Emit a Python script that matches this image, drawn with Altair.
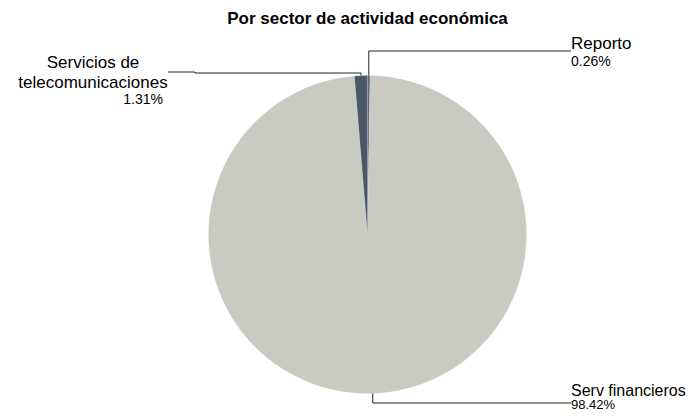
import math
import altair as alt
import pandas as pd

# ---- data ----
categories = ["Reporto", "Serv financieros", "Servicios de telecomunicaciones"]
values = [0.26, 98.42, 1.31]
pct_labels = ["0.26%", "98.42%", "1.31%"]
colors = ["#5d6d7f", "#c9cac1", "#4a5766"]

# ---- layout constants (chart coordinates) ----
CX, CY, R = 359.5, 226.5, 159
W, H = 679, 402

pie_df = pd.DataFrame({"cat": categories, "value": values, "ord": list(range(len(values)))})

# leader-line start points computed from the data (slice mid-angles)
total = sum(values)
starts = {}
acc = 0.0
for c, v in zip(categories, values):
    mid = (acc + v / 2) / total * 2 * math.pi
    starts[c] = (CX + R * math.sin(mid), CY - R * math.cos(mid))
    acc += v

elbows = {
    "Reporto": [("sx", 43), (563, 43)],
    "Serv financieros": [("sx", 395), (563, 395)],
    "Servicios de telecomunicaciones": [("sx", 65), (187, 65), (187, 64), (160, 64)],
}
rows = []
for c in categories:
    sx, sy = starts[c]
    rows.append({"cat": c, "i": 0, "px": sx, "py": sy})
    for k, (ex, ey) in enumerate(elbows[c], start=1):
        rows.append({"cat": c, "i": k, "px": sx if ex == "sx" else ex, "py": ey})
lines_df = pd.DataFrame(rows)

left_txt = pd.DataFrame({
    "t": [categories[0], pct_labels[0], categories[1], pct_labels[1]],
    "x": [563, 563, 563, 563],
    "y": [41, 58, 388, 401],
    "fs": [17, 14, 16, 13],
})
center_txt = pd.DataFrame({
    "t": ["Servicios de", "telecomunicaciones"],
    "x": [85, 85],
    "y": [60, 80],
    "fs": [17, 17],
})
right_txt = pd.DataFrame({"t": [pct_labels[2]], "x": [155], "y": [96], "fs": [14]})
title_df = pd.DataFrame({"t": ["Por sector de actividad económica"], "x": [CX], "y": [16]})

FONT = "Liberation Sans"

pie = alt.Chart(pie_df).mark_arc(outerRadius=R, stroke="#e8e8e4", strokeWidth=0.2).encode(
    theta=alt.Theta("value:Q", stack=True),
    order=alt.Order("ord:Q"),
    color=alt.Color("cat:N", scale=alt.Scale(domain=categories, range=colors), legend=None),
    x=alt.value(CX),
    y=alt.value(CY),
)

leaders = alt.Chart(lines_df).mark_line(color="#222222", strokeWidth=1, interpolate="linear").encode(
    x=alt.X("px:Q", scale=None),
    y=alt.Y("py:Q", scale=None),
    detail="cat:N",
    order="i:Q",
)

def text_layer(df, align):
    return alt.Chart(df).mark_text(align=align, baseline="alphabetic", font=FONT, color="#000000").encode(
        x=alt.X("x:Q", scale=None),
        y=alt.Y("y:Q", scale=None),
        text="t:N",
        size=alt.Size("fs:Q", scale=None, legend=None),
    )

title = alt.Chart(title_df).mark_text(
    align="center", baseline="alphabetic", font=FONT, fontSize=17, fontWeight="bold", color="#000000"
).encode(x=alt.X("x:Q", scale=None), y=alt.Y("y:Q", scale=None), text="t:N")

chart = alt.layer(
    pie, leaders, text_layer(left_txt, "left"), text_layer(center_txt, "center"),
    text_layer(right_txt, "right"), title
).properties(
    width=W, height=H, autosize=alt.AutoSizeParams(type="none"), padding=0
).configure_view(stroke=None)

chart.save("out.html", embed_options={"renderer": "svg", "actions": False})
